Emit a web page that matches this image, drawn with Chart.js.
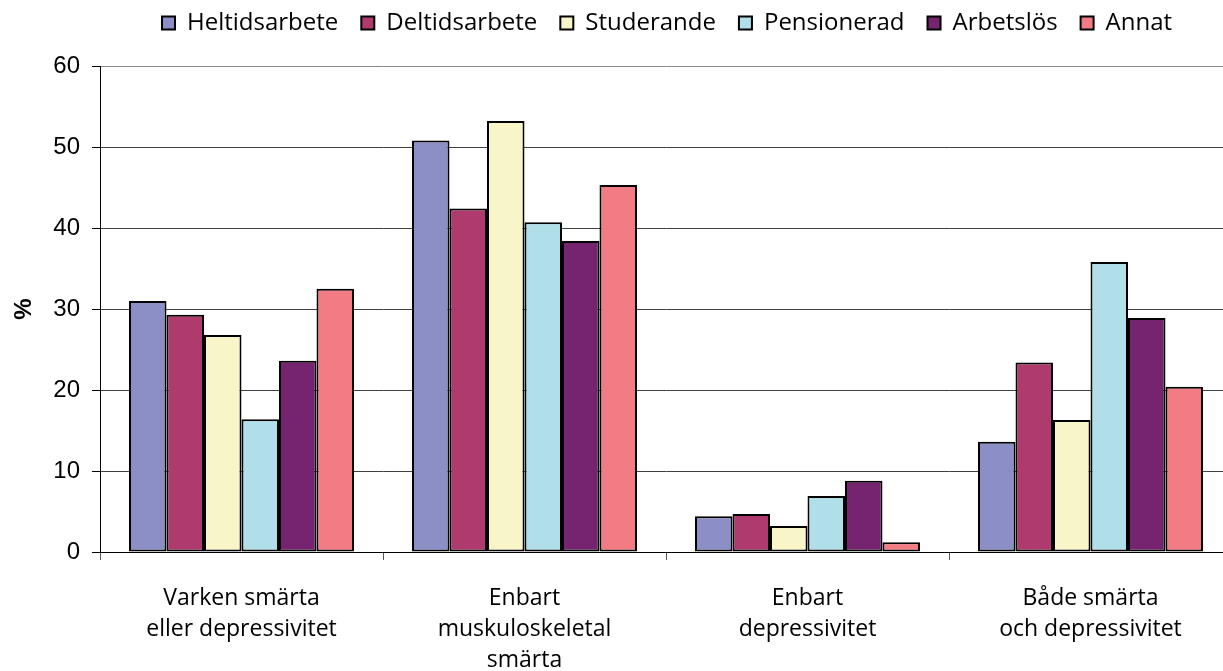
<!DOCTYPE html>
<html>
<head>
    <title>Sysselsättning och smärta/depressivitet</title>
    <script src="https://cdn.jsdelivr.net/npm/chart.js@4.4.0/dist/chart.umd.min.js"></script>
    <style>
        body { margin: 0; overflow: hidden; background: #fff; }
    </style>
</head>
<body>
    <canvas id="chart" width="1232" height="671"></canvas>

    <script>
        // Categories (x axis), one array per label so they wrap like the original
        const categories = [
            ['Varken smärta', 'eller depressivitet'],
            ['Enbart', 'muskuloskeletal', 'smärta'],
            ['Enbart', 'depressivitet'],
            ['Både smärta', 'och depressivitet']
        ];

        // Values in %
        const heltidsarbete = [31.0, 50.8, 4.4, 13.6];
        const deltidsarbete = [29.3, 42.4, 4.7, 23.4];
        const studerande    = [26.8, 53.2, 3.2, 16.3];
        const pensionerad   = [16.4, 40.7, 6.9, 35.8];
        const arbetslos     = [23.6, 38.4, 8.8, 28.9];
        const annat         = [32.5, 45.3, 1.2, 20.4];

        const yTicks = [0, 10, 20, 30, 40, 50, 60];

        const series = [
            { label: 'Heltidsarbete', data: heltidsarbete, color: '#8c8fc5' },
            { label: 'Deltidsarbete', data: deltidsarbete, color: '#ae3a6e' },
            { label: 'Studerande',    data: studerande,    color: '#f8f6c8' },
            { label: 'Pensionerad',   data: pensionerad,   color: '#b0dfea' },
            { label: 'Arbetslös',     data: arbetslos,     color: '#76246f' },
            { label: 'Annat',         data: annat,         color: '#f27b84' }
        ];

        // Legend sits off-centre in the original, high up, with room below it
        const legendTweak = {
            id: 'legendTweak',
            beforeInit(chart) {
                const fit = chart.legend.fit;
                chart.legend.fit = function () {
                    fit.call(this);
                    this.height = 66;
                };
            },
            afterLayout(chart) {
                chart.legend.left = 139;
                chart.legend.right = chart.width;
                chart.legend.top = -12;
            }
        };

        new Chart(document.getElementById('chart'), {
            type: 'bar',
            data: {
                labels: categories,
                datasets: series.map(s => ({
                    label: s.label,
                    data: s.data,
                    backgroundColor: s.color,
                    borderColor: '#000',
                    borderWidth: 2,
                    borderSkipped: false,
                    categoryPercentage: 0.795,
                    barPercentage: 1
                }))
            },
            options: {
                responsive: false,
                animation: false,
                devicePixelRatio: 1,
                layout: { padding: 0 },
                plugins: {
                    tooltip: { enabled: false },
                    legend: {
                        position: 'top',
                        align: 'start',
                        labels: {
                            boxWidth: 13,
                            boxHeight: 13,
                            padding: 23,
                            color: '#000',
                            font: { family: 'Open Sans', size: 24 }
                        }
                    }
                },
                scales: {
                    x: {
                        grid: {
                            offset: true,
                            drawOnChartArea: false,
                            drawTicks: true,
                            tickLength: 8,
                            tickColor: '#555'
                        },
                        border: { color: '#000', width: 1 },
                        ticks: {
                            padding: 23,
                            color: '#000',
                            maxRotation: 0,
                            autoSkip: false,
                            font: { family: 'Open Sans', size: 23, lineHeight: 1.35 }
                        },
                        afterFit(scale) { scale.height = 119; }
                    },
                    y: {
                        min: 0,
                        max: 60,
                        afterBuildTicks(scale) {
                            scale.ticks = yTicks.map(v => ({ value: v }));
                        },
                        grid: {
                            color: ctx => ctx.tick && ctx.tick.value === 60 ? '#8a8a8a' : '#404040',
                            tickColor: '#000',
                            tickLength: 8,
                            lineWidth: 1
                        },
                        border: { color: '#000', width: 1 },
                        ticks: {
                            padding: 12,
                            color: '#000',
                            font: { family: 'Liberation Sans', size: 24 }
                        },
                        title: {
                            display: true,
                            text: '%',
                            color: '#000',
                            padding: { top: 10 },
                            font: { family: 'Liberation Sans', size: 24, weight: 'bold' }
                        },
                        afterFit(scale) { scale.width = 100; }
                    }
                }
            },
            plugins: [legendTweak]
        });
    </script>
</body>
</html>
